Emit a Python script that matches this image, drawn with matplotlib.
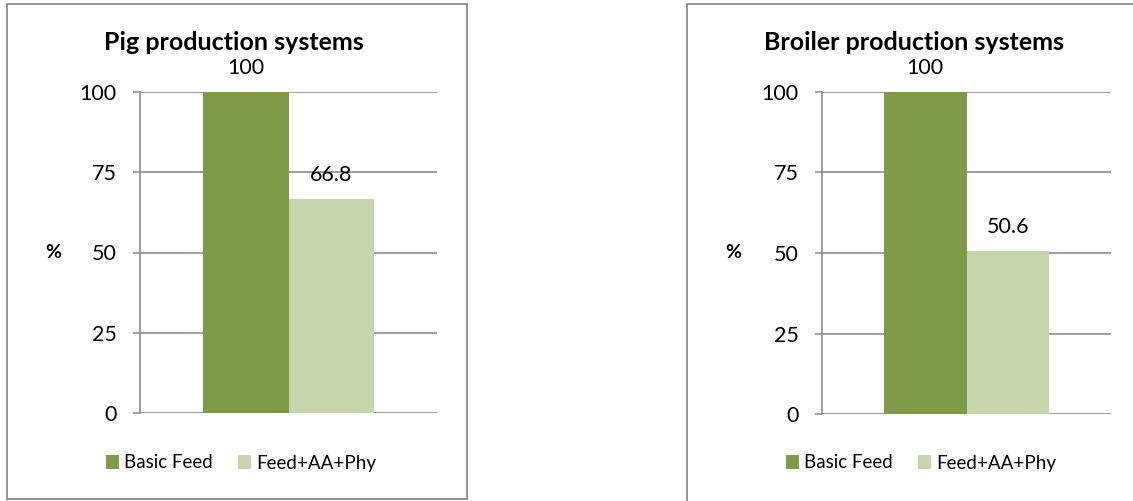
import matplotlib.pyplot as plt
from matplotlib.patches import Rectangle

plt.rcParams['font.family'] = ['Lato', 'DejaVu Sans']

TITLES = ["Pig production systems", "Broiler production systems"]
SERIES = ["Basic Feed", "Feed+AA+Phy"]
PIG_VALUES = [100, 66.8]
BROILER_VALUES = [100, 50.6]
Y_TICKS = [0, 25, 50, 75, 100]

COLORS = ['#7f9a48', '#c7d6ac']
GRAY = '#8c8c8c'
W, H = 1133, 501


def px(x, y):
    # pixel coords (top-left origin) -> figure fraction
    return x / W, 1 - y / H


fig = plt.figure(figsize=(W / 100, H / 100), dpi=100)

panels = [
    # panel box (x0, y0, x1, y1), axes box (x0, y_top, x1, y_bottom), values
    ((7, 4, 467, 499), (140, 92, 437, 413), PIG_VALUES),
    ((687, 4, 1240, 560), (822, 92, 1111, 414), BROILER_VALUES),
]

for (box, axbox, values), title in zip(panels, TITLES):
    bx0, by0 = px(box[0], box[3])
    bw, bh = (box[2] - box[0]) / W, (box[3] - box[1]) / H
    fig.add_artist(Rectangle((bx0, by0), bw, bh, transform=fig.transFigure,
                             fill=False, edgecolor=GRAY, linewidth=1.3))

    ax0, ay0 = px(axbox[0], axbox[3])
    aw, ah = (axbox[2] - axbox[0]) / W, (axbox[3] - axbox[1]) / H
    ax = fig.add_axes([ax0, ay0, aw, ah])

    width = 0.287
    offsets = [-width / 2, width / 2]
    for val, off, color, name in zip(values, offsets, COLORS, SERIES):
        bars = ax.bar([off], [val], width=width, color=color, label=name, zorder=3)
        ax.bar_label(bars, labels=[f"{val:g}"], padding=10, fontsize=15.5)

    ax.set_xlim(-0.5, 0.5)
    ax.set_ylim(0, 100)
    ax.set_yticks(Y_TICKS)
    ax.set_xticks([])
    ax.tick_params(axis='y', labelsize=15.5, length=5, width=1.1, color=GRAY, pad=12)
    ax.yaxis.grid(True, color=GRAY, linewidth=1.2, zorder=0)
    ax.set_axisbelow(True)
    for s in ['top', 'right', 'bottom']:
        ax.spines[s].set_visible(False)
    ax.spines['left'].set_color(GRAY)
    ax.spines['left'].set_linewidth(1.2)

    cx = (box[0] + (box[0] + 450)) / 2
    tx, ty = px(cx + 2, 43)
    fig.text(tx, ty, title, ha='center', va='center', fontsize=18, fontweight='bold')

    pxl, pyl = px(box[0] + 46, 253)
    fig.text(pxl, pyl, '%', ha='center', va='center', fontsize=14, fontweight='bold')

    lx, ly = px(cx + 9, 463)
    ax.legend(loc='center', bbox_to_anchor=(lx, ly), bbox_transform=fig.transFigure,
              ncol=2, frameon=False, fontsize=13.5, handlelength=0.7, handleheight=0.7,
              handletextpad=0.3, columnspacing=1.3)

fig.savefig('out.png', dpi=100)
